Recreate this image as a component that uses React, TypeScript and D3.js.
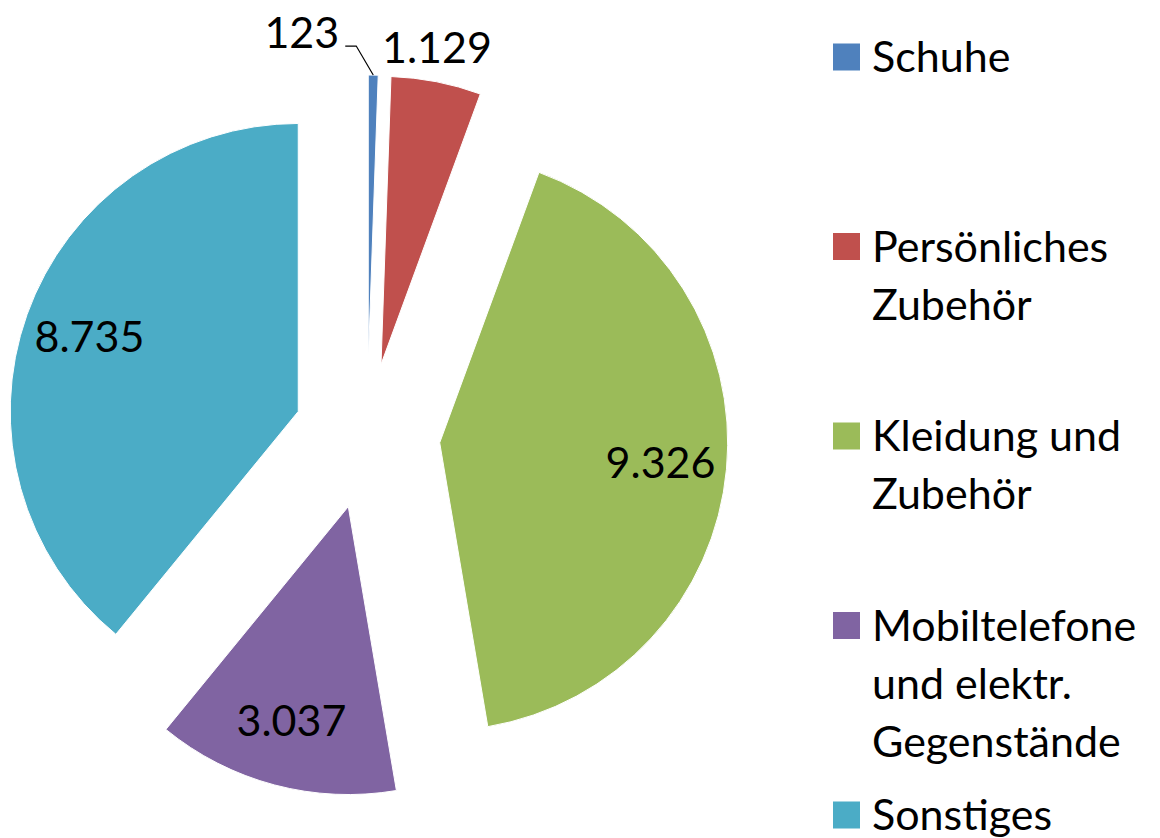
import { useEffect, useRef } from "react";
import * as d3 from "d3";

const categories = [
  ["Schuhe"],
  ["Persönliches", "Zubehör"],
  ["Kleidung und", "Zubehör"],
  ["Mobiltelefone", "und elektr.", "Gegenstände"],
  ["Sonstiges"],
];
const values = [123, 1129, 9326, 3037, 8735];
const valueLabels = ["123", "1.129", "9.326", "3.037", "8.735"];
const colors = ["#4F81BD", "#C0504D", "#9BBB59", "#8064A2", "#4BACC6"];

export default function App() {
  const ref = useRef<SVGSVGElement>(null);
  const width = 1160;
  const height = 838;

  useEffect(() => {
    const svg = d3.select(ref.current);
    svg.selectAll("*").remove();

    const cx = 367;
    const cy = 436;
    const radius = 288;
    const explode = 73;
    const font = "Lato, 'Open Sans', sans-serif";

    const pie = d3
      .pie<number>()
      .sort(null)
      .value((d) => d);
    const arcs = pie(values);
    const arc = d3.arc<d3.PieArcDatum<number>>().innerRadius(0).outerRadius(radius);

    const g = svg.append("g").attr("transform", `translate(${cx},${cy})`);

    const dir = (a: number) => [Math.sin(a), -Math.cos(a)];

    const slices = g
      .selectAll("g.slice")
      .data(arcs)
      .enter()
      .append("g")
      .attr("class", "slice")
      .attr("transform", (d) => {
        const m = (d.startAngle + d.endAngle) / 2;
        const [dx, dy] = dir(m);
        return `translate(${dx * explode},${dy * explode})`;
      });

    slices
      .append("path")
      .attr("d", arc)
      .attr("fill", (d, i) => colors[i])
      .attr("stroke", "#fff")
      .attr("stroke-width", 1);

    // labels
    slices.each(function (d, i) {
      const sel = d3.select(this);
      const m = (d.startAngle + d.endAngle) / 2;
      const [ux, uy] = dir(m);
      if (i === 0) {
        // outside with leader line
        const px = ux * radius;
        const py = uy * radius;
        const path = d3.path();
        path.moveTo(px, py);
        path.lineTo(px - 17, py - 29);
        path.lineTo(px - 28, py - 29);
        sel
          .append("path")
          .attr("d", path.toString())
          .attr("fill", "none")
          .attr("stroke", "#000")
          .attr("stroke-width", 1.2);
        sel
          .append("text")
          .attr("x", px - 34)
          .attr("y", py - 27)
          .attr("text-anchor", "end")
          .attr("font-family", font)
          .attr("font-size", 43)
          .attr("fill", "#000")
          .text(valueLabels[i]);
      } else if (i === 1) {
        const r = radius * 1.12;
        sel
          .append("text")
          .attr("x", ux * r - 6)
          .attr("y", uy * r)
          .attr("dy", "0.35em")
          .attr("text-anchor", "middle")
          .attr("font-family", font)
          .attr("font-size", 43)
          .attr("fill", "#000")
          .text(valueLabels[i]);
      } else {
        const r = radius * 0.77;
        sel
          .append("text")
          .attr("x", ux * r)
          .attr("y", uy * r)
          .attr("dy", "0.35em")
          .attr("text-anchor", "middle")
          .attr("font-family", font)
          .attr("font-size", 43)
          .attr("fill", "#000")
          .text(valueLabels[i]);
      }
    });

    // legend
    const legend = svg.append("g").attr("transform", "translate(833,0)");
    const itemY = d3.scaleLinear().domain([0, 4]).range([57, 815]);
    categories.forEach((lines, i) => {
      const y = itemY(i);
      legend
        .append("rect")
        .attr("x", 0)
        .attr("y", y - 13.5)
        .attr("width", 27)
        .attr("height", 27)
        .attr("fill", colors[i]);
      const t = legend
        .append("text")
        .attr("font-family", font)
        .attr("font-size", 43)
        .attr("fill", "#000");
      lines.forEach((line, j) => {
        t.append("tspan")
          .attr("x", 39)
          .attr("y", y + 15 + j * 58)
          .text(line);
      });
    });
  }, []);

  return (
    <div style={{ position: "absolute", left: 0, top: 0 }}>
      <svg ref={ref} width={width} height={height} style={{ display: "block", background: "#fff" }} />
    </div>
  );
}
